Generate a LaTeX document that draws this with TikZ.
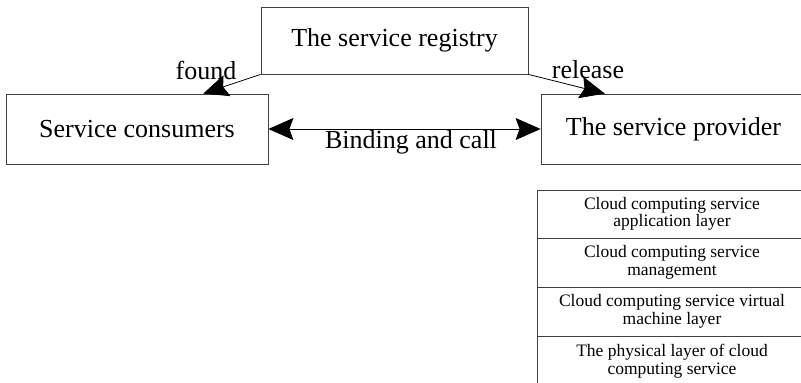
\documentclass[tikz,border=0pt]{standalone}
\usepackage{fontspec}
\setmainfont{Liberation Serif}
\usetikzlibrary{arrows.meta,calc}
\tikzset{
  box/.style={draw=black!75, line width=0.8pt, inner sep=0pt},
  big/.style={font=\fontsize{26}{30}\selectfont},
  small/.style={font=\fontsize{17.5}{17.5}\selectfont, align=center},
  arr/.style={draw=black, line width=0.8pt, -{Stealth[length=25pt,width=22pt,inset=4pt]}},
  darr/.style={draw=black, line width=0.8pt, {Stealth[length=25pt,width=22pt,inset=4pt]}-{Stealth[length=25pt,width=22pt,inset=4pt]}},
  lab/.style={font=\fontsize{26}{30}\selectfont, inner sep=0pt}
}
\begin{document}
\begin{tikzpicture}[x=1pt,y=-1pt]
\useasboundingbox (0,0) rectangle (801,383);
\clip (0,0) rectangle (801,383);
% main boxes
\node[box, big, minimum width=267pt, minimum height=67pt] (reg) at (394.5,40.5) {The service registry};
\node[box, big, minimum width=262pt, minimum height=70pt] (cons) at (137,129) {Service consumers};
\node[box, big, minimum width=265pt, minimum height=70pt] (prov) at (673.5,129) {The service provider};
% arrows
\coordinate (ft) at ($(cons.north west)!0.752!(cons.north east)$);
\coordinate (rt) at ($(prov.north west)!0.242!(prov.north east)$);
\draw[arr] (reg.south west) -- (ft);
\draw[arr] (reg.south east) -- (rt);
\draw[darr] (cons.east) -- (prov.west);
% labels
\node[lab] (found) at (206,70) {found};
\node[lab] (rel) at (588,70) {release};
\node[lab] (bind) at (411,142) {Binding and call};
% layer table
\node[box, small, minimum width=270pt, minimum height=48pt] (l1) at (672,214) {Cloud computing service\\application layer};
\node[box, small, minimum width=270pt, minimum height=49pt] (l2) at (672,262.5) {Cloud computing service\\management};
\node[box, small, minimum width=270pt, minimum height=49pt] (l3) at (672,311.5) {Cloud computing service virtual\\machine layer};
\node[box, small, minimum width=270pt, minimum height=50pt] (l4) at (672,361) {The physical layer of cloud\\computing service};
\end{tikzpicture}
\end{document}
